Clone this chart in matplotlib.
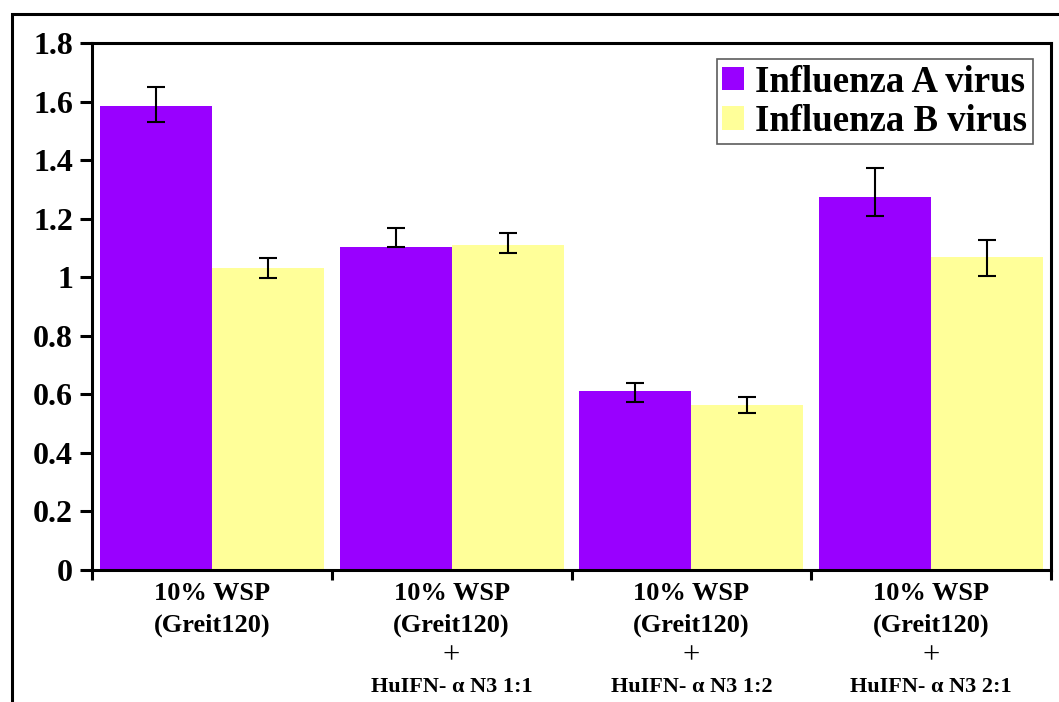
import matplotlib
matplotlib.use("Agg")
import matplotlib.pyplot as plt
import numpy as np
from matplotlib.patches import Rectangle

# ---- data ----
line1 = ["10% WSP", "10% WSP", "10% WSP", "10% WSP"]
line2 = ["(Greit120)", "(Greit120)", "(Greit120)", "(Greit120)"]
line3 = ["", "+", "+", "+"]
line4 = ["", "HuIFN- α N3 1:1", "HuIFN- α N3 1:2", "HuIFN- α N3 2:1"]
series_names = ["Influenza A virus", "Influenza B virus"]
flu_a = [1.586, 1.104, 0.610, 1.274]
flu_a_err_low = [0.055, 0.0, 0.037, 0.064]
flu_a_err_high = [0.065, 0.065, 0.030, 0.098]
flu_b = [1.031, 1.110, 0.562, 1.069]
flu_b_err_low = [0.032, 0.026, 0.026, 0.064]
flu_b_err_high = [0.036, 0.042, 0.029, 0.058]
yticks = [0, 0.2, 0.4, 0.6, 0.8, 1, 1.2, 1.4, 1.6, 1.8]
ytick_labels = ["0", "0.2", "0.4", "0.6", "0.8", "1", "1.2", "1.4", "1.6", "1.8"]

purple = "#9900FF"
yellow = "#FFFF99"
serif = ["Liberation Serif", "DejaVu Serif"]

fig = plt.figure(figsize=(10.59, 7.02), dpi=100)
W, H = 1059, 702
ax = fig.add_axes([92 / W, 1 - 570 / H, (1051 - 92) / W, (570 - 43) / H])

x = np.arange(len(line1))
bw = 0.467
ekw = dict(ecolor="black", elinewidth=1.5, capsize=6.5, capthick=1.5)
ax.bar(x - bw / 2, flu_a, bw, color=purple, label=series_names[0], zorder=2)
ax.bar(x + bw / 2, flu_b, bw, color=yellow, label=series_names[1], zorder=2)
ax.errorbar(x - bw / 2, flu_a, yerr=[flu_a_err_low, flu_a_err_high], fmt="none", zorder=3, **ekw)
ax.errorbar(x + bw / 2, flu_b, yerr=[flu_b_err_low, flu_b_err_high], fmt="none", zorder=3, **ekw)

ax.set_xlim(-0.5, len(line1) - 0.5)
ax.set_ylim(0, 1.8)
ax.set_yticks(yticks)
ax.set_yticklabels(ytick_labels, fontfamily=serif, fontweight="bold", fontsize=23)
ax.tick_params(axis="y", direction="out", length=8.6, width=2.2, pad=5)

ax.set_xticks(x)
ax.set_xticklabels([])
ax.tick_params(axis="x", which="major", length=0)
ax.set_xticks(np.arange(len(line1) + 1) - 0.5, minor=True)
ax.tick_params(axis="x", which="minor", direction="out", length=7.5, width=2.2)

for s in ax.spines.values():
    s.set_linewidth(2.2)

# category labels
for i in range(len(line1)):
    for txt, off, fs, fw in [(line1[i], 17, 19, "bold"), (line2[i], 40, 19, "bold"),
                             (line3[i], 62, 22, "normal"), (line4[i], 84, 16, "bold")]:
        if txt:
            ax.annotate(txt, xy=(x[i], 0), xycoords=("data", "axes fraction"),
                        xytext=(0, -off), textcoords="offset points",
                        ha="center", va="center", fontfamily=serif,
                        fontweight=fw, fontsize=fs, color="black")

leg = ax.legend(loc="upper right", bbox_to_anchor=(1033 / W, 1 - 59 / H),
                bbox_transform=fig.transFigure,
                prop=dict(family=serif, weight="bold", size=26.5),
                frameon=True, fancybox=False, handlelength=0.6, handleheight=0.6,
                handletextpad=0.3, borderpad=0.15, labelspacing=0.12,
                borderaxespad=0)
leg.get_frame().set_edgecolor("#333333")
leg.get_frame().set_linewidth(1.2)

# outer frame
fig.patches.append(Rectangle((12 / W, -0.1), 1.2, 1 - 14 / H + 0.1,
                             transform=fig.transFigure, fill=False,
                             edgecolor="black", linewidth=2.2))

fig.savefig("out.png", dpi=100)
